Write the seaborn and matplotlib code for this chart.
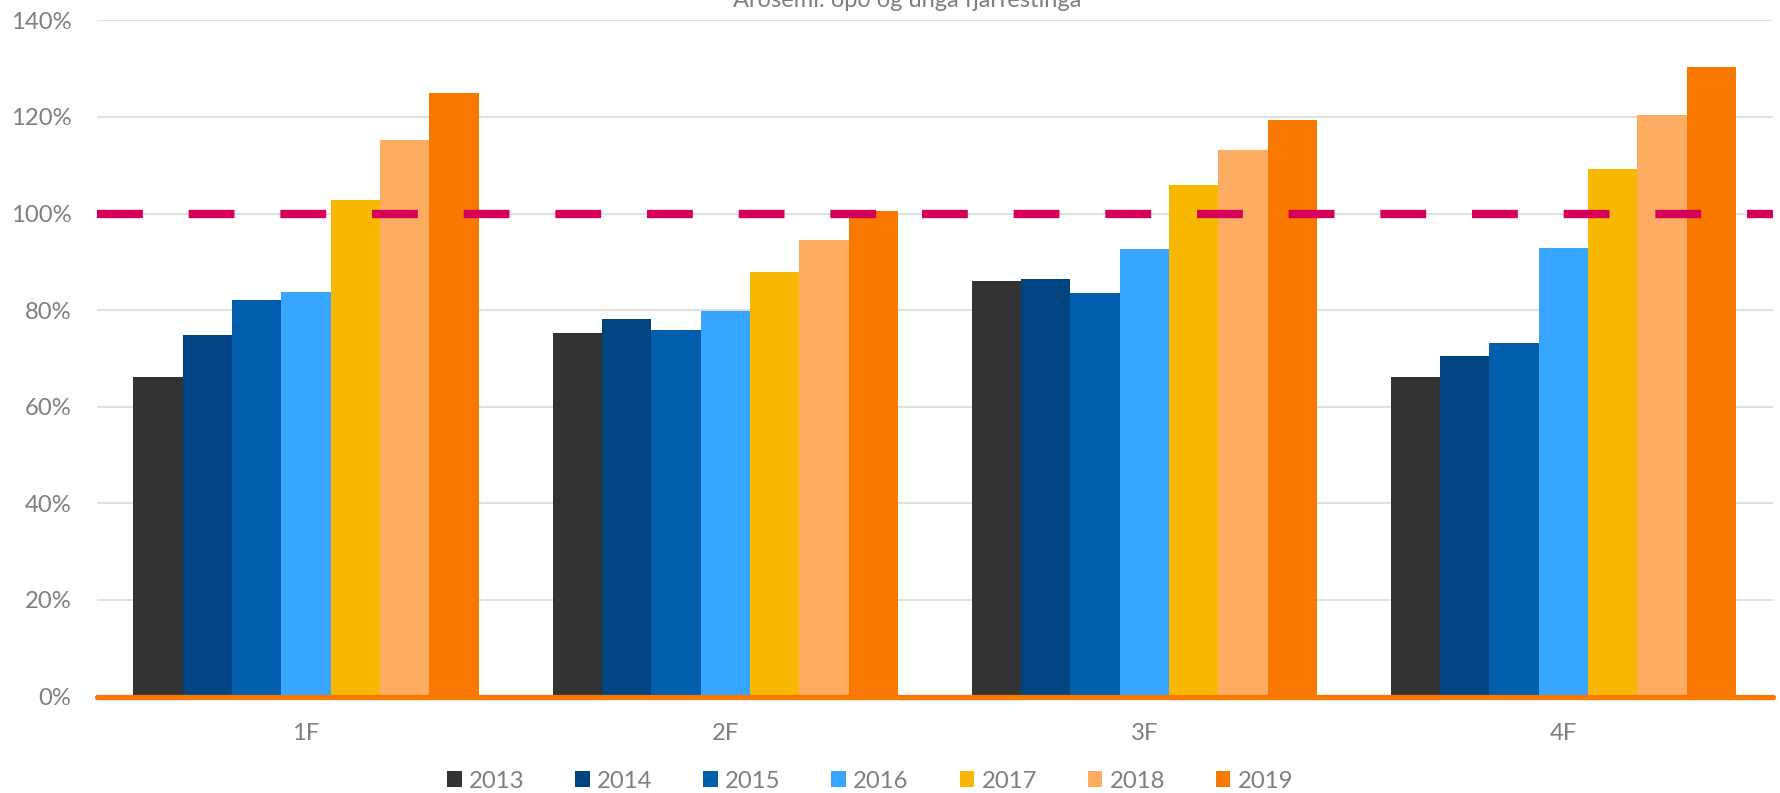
import matplotlib
matplotlib.use("Agg")
import matplotlib.pyplot as plt
import seaborn as sns
import pandas as pd

categories = ["1F", "2F", "3F", "4F"]
years = ["2013", "2014", "2015", "2016", "2017", "2018", "2019"]
v2013 = [66.1, 75.3, 86.1, 66.1]
v2014 = [74.8, 78.1, 86.4, 70.6]
v2015 = [82.1, 75.8, 83.5, 73.2]
v2016 = [83.8, 79.8, 92.7, 92.9]
v2017 = [102.8, 88.0, 105.9, 109.2]
v2018 = [115.3, 94.6, 113.2, 120.5]
v2019 = [124.9, 100.5, 119.3, 130.4]
colors = ["#333333", "#004481", "#005EAC", "#38A6FF", "#F8B700", "#FEAC62", "#F97800"]
threshold = 100
title = "Arðsemi: opð og unga fjárfestinga"

series = [v2013, v2014, v2015, v2016, v2017, v2018, v2019]
rows = []
for y, vals in zip(years, series):
    for c, v in zip(categories, vals):
        rows.append({"cat": c, "year": y, "value": v})
df = pd.DataFrame(rows)

sns.set_theme(style="white")
plt.rcParams["font.family"] = ["Lato", "DejaVu Sans"]
txt = "#7F7F7F"
fs = 17.2

fig = plt.figure(figsize=(17.8, 7.93), dpi=100)
ax = fig.add_axes([96.5 / 1780, 96.5 / 793, (1773 - 96.5) / 1780, (696.5 - 20.4) / 793])

sns.barplot(data=df, x="cat", y="value", hue="year", hue_order=years,
            palette=colors, width=0.824, gap=0, linewidth=0, saturation=1,
            errorbar=None, ax=ax, zorder=2)

ax.set_xlim(-0.5, 3.5)
ax.set_ylim(0, 140)
ax.set_yticks(range(0, 141, 20))
ax.set_yticklabels([f"{t}%" for t in range(0, 141, 20)])
ax.grid(axis="y", color="#E0E0E0", linewidth=1.5, zorder=0)
ax.set_axisbelow(True)
for s in ax.spines.values():
    s.set_visible(False)
ax.axhline(0, color="#F97800", linewidth=3.8, zorder=3, clip_on=False)
ax.axhline(threshold, color="#D6005A", linewidth=6.0, dashes=(5.5, 5.5), zorder=4)

ax.set_xlabel("")
ax.set_ylabel("")
ax.tick_params(axis="x", length=0, pad=19, labelsize=fs, labelcolor=txt)
ax.tick_params(axis="y", length=0, pad=18, labelsize=fs, labelcolor=txt)

sns.move_legend(ax, "center", bbox_to_anchor=(870 / 1780, 1 - 781 / 793),
                bbox_transform=fig.transFigure, ncol=7, frameon=False, title=None,
                fontsize=fs, handlelength=0.62, handleheight=0.62,
                handletextpad=0.3, columnspacing=2.12, labelcolor=txt)

fig.text(907 / 1780, 1 - 7 / 793, title, ha="center", va="baseline",
         fontsize=17, color=txt)

fig.savefig("out.png", dpi=100)
